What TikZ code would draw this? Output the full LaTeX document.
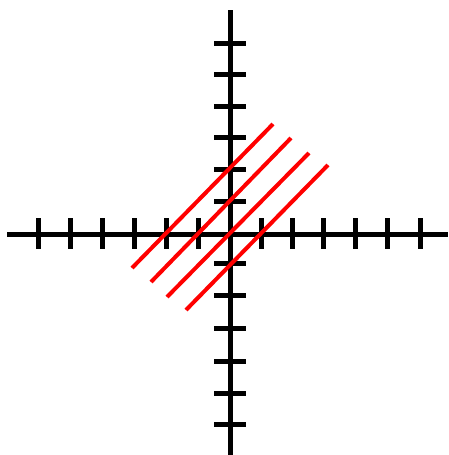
\documentclass[tikz,border=0pt]{standalone}
\begin{document}
\begin{tikzpicture}[x=1pt,y=-1pt,
  axis/.style={line width=5pt,black},
  tickmark/.style={line width=5pt,black},
  redline/.style={line width=4pt,red}]
\useasboundingbox (0,0) rectangle (448,455);
% axes
\draw[axis] (7,234) -- (448,234);
\draw[axis] (230,10) -- (230,455);
% horizontal ticks
\foreach \x in {38,70,102,134,166,198,261,292,323,355,387,420}
  \draw[tickmark] (\x,218) -- (\x,249);
% vertical ticks
\foreach \y in {43,74,106,137,169,201,263,295,328,361,393,424}
  \draw[tickmark] (214,\y) -- (246,\y);
% red lines
\draw[redline] (132,268) -- (273,124);
\draw[redline] (151,282) -- (291,138);
\draw[redline] (167,297) -- (309,153);
\draw[redline] (186,310) -- (328,165);
\end{tikzpicture}
\end{document}
